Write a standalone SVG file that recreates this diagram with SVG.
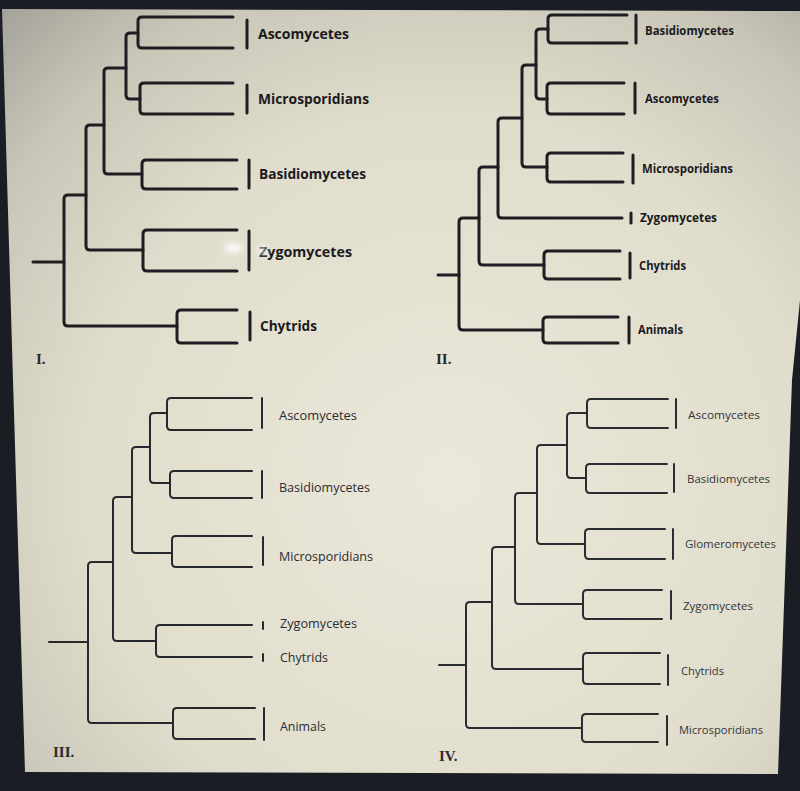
<svg xmlns="http://www.w3.org/2000/svg" width="800" height="791" viewBox="0 0 800 791">
<defs>
<radialGradient id="bg" cx="450" cy="480" r="660" gradientUnits="userSpaceOnUse">
<stop offset="0" stop-color="#ebe8da"/>
<stop offset="0.55" stop-color="#e1ddcc"/>
<stop offset="0.8" stop-color="#c9c6b8"/>
<stop offset="1" stop-color="#a19f97"/>
</radialGradient>
<filter id="blur" x="-50%" y="-50%" width="200%" height="200%"><feGaussianBlur stdDeviation="3"/></filter>
<style>
.t1 path, .t1 line { fill:none; stroke:#1d1d22; stroke-width:3; stroke-linecap:round; }
.t2 path, .t2 line { fill:none; stroke:#1d1d22; stroke-width:3; stroke-linecap:round; }
.t3 path, .t3 line { fill:none; stroke:#26282d; stroke-width:2; stroke-linecap:round; }
.t4 path, .t4 line { fill:none; stroke:#2a2c31; stroke-width:2; stroke-linecap:round; }
.tick1 { stroke:#1d1d22; stroke-width:3; }
.tick3 { stroke:#26282d; stroke-width:2; }
text { font-family:"Open Sans","Liberation Sans",sans-serif; }
.lb1 { font-size:15px; font-weight:bold; fill:#1a1a20; }
.lb2 { font-size:12px; font-weight:bold; fill:#1a1a20; }
.lb3 { font-size:13px; fill:#2a2c33; }
.lb4 { font-size:11px; fill:#33353b; }
.num { font-family:"Liberation Serif",serif; font-weight:bold; font-size:15px; fill:#2a2a2e; }
</style>
</defs>
<rect width="800" height="791" fill="#1b1d25"/>
<polygon points="2,9 800,11 800,300 792,380 778,774 25,772 13,380" fill="url(#bg)"/>

<g id="tree1" class="t1">
<g id="connectors1">
<path d="M233,17 H142 Q138,17 138,21 V44 Q138,48 142,48 H233"/>
<path d="M233,83 H144 Q140,83 140,87 V110 Q140,114 144,114 H233"/>
<path d="M138,33 H130 Q126,33 126,37 V95 Q126,99 130,99 H140"/>
<path d="M237,160 H146 Q142,160 142,164 V185 Q142,189 146,189 H237"/>
<path d="M126,68 H108 Q104,68 104,72 V170 Q104,174 108,174 H142"/>
<path d="M237,230 H147 Q143,230 143,234 V267 Q143,271 147,271 H237"/>
<path d="M104,125 H90 Q86,125 86,129 V246 Q86,250 90,250 H143"/>
<path d="M237,310 H181 Q177,310 177,314 V339 Q177,343 181,343 H237"/>
<path d="M86,195 H68 Q64,195 64,199 V322 Q64,326 68,326 H177"/>
<path d="M33,262 H64"/>
</g>
<g id="n1-asco"><line class="tick1" x1="247" y1="20" x2="247" y2="48"/><text class="lb1" x="258" y="39" textLength="91" lengthAdjust="spacingAndGlyphs">Ascomycetes</text></g>
<g id="n1-micro"><line class="tick1" x1="247" y1="85" x2="247" y2="113"/><text class="lb1" x="258" y="104" textLength="111" lengthAdjust="spacingAndGlyphs">Microsporidians</text></g>
<g id="n1-basid"><line class="tick1" x1="249" y1="160" x2="249" y2="188"/><text class="lb1" x="259" y="179" textLength="107" lengthAdjust="spacingAndGlyphs">Basidiomycetes</text></g>
<g id="n1-zygo"><line class="tick1" x1="249" y1="231" x2="249" y2="270"/><text class="lb1" x="259" y="257" textLength="93" lengthAdjust="spacingAndGlyphs">Zygomycetes</text></g>
<g id="n1-chyt"><line class="tick1" x1="250" y1="312" x2="250" y2="340"/><text class="lb1" x="260" y="331" textLength="57" lengthAdjust="spacingAndGlyphs">Chytrids</text></g>
<text class="num" x="36" y="364">I.</text>
</g>
<ellipse cx="233" cy="248" rx="9" ry="5" fill="#ffffff" opacity="0.9" filter="url(#blur)"/>
<ellipse cx="262" cy="250" rx="4" ry="5" fill="#ffffff" opacity="0.8" filter="url(#blur)"/>

<g id="tree2" class="t2">
<g id="connectors2">
<path d="M627,15 H552 Q548,15 548,19 V39 Q548,43 552,43 H627"/>
<path d="M624,83 H551 Q547,83 547,87 V110 Q547,114 551,114 H624"/>
<path d="M548,29 H540 Q536,29 536,33 V95 Q536,99 540,99 H547"/>
<path d="M623,153 H551 Q547,153 547,157 V178 Q547,182 551,182 H623"/>
<path d="M536,65 H526 Q522,65 522,69 V163 Q522,167 526,167 H547"/>
<path d="M522,118 H502 Q498,118 498,122 V214 Q498,218 502,218 H622"/>
<path d="M620,251 H548 Q544,251 544,255 V275 Q544,279 548,279 H620"/>
<path d="M498,167 H483 Q479,167 479,171 V261 Q479,265 483,265 H544"/>
<path d="M618,317 H547 Q543,317 543,321 V339 Q543,343 547,343 H618"/>
<path d="M479,218 H463 Q459,218 459,222 V326 Q459,330 463,330 H543"/>
<path d="M438,275 H459"/>
</g>
<g id="n2-basid"><line class="tick1" x1="636" y1="15" x2="636" y2="43"/><text class="lb2" x="645" y="35" textLength="89" lengthAdjust="spacingAndGlyphs">Basidiomycetes</text></g>
<g id="n2-asco"><line class="tick1" x1="635" y1="83" x2="635" y2="113"/><text class="lb2" x="645" y="103" textLength="74" lengthAdjust="spacingAndGlyphs">Ascomycetes</text></g>
<g id="n2-micro"><line class="tick1" x1="633" y1="155" x2="633" y2="183"/><text class="lb2" x="642" y="173" textLength="91" lengthAdjust="spacingAndGlyphs">Microsporidians</text></g>
<g id="n2-zygo"><line class="tick1" x1="631" y1="213" x2="631" y2="223"/><text class="lb2" x="640" y="222" textLength="77" lengthAdjust="spacingAndGlyphs">Zygomycetes</text></g>
<g id="n2-chyt"><line class="tick1" x1="630" y1="253" x2="630" y2="278"/><text class="lb2" x="639" y="270" textLength="47" lengthAdjust="spacingAndGlyphs" font-weight="normal">Chytrids</text></g>
<g id="n2-anim"><line class="tick1" x1="629" y1="317" x2="629" y2="343"/><text class="lb2" x="638" y="334" textLength="45" lengthAdjust="spacingAndGlyphs" font-weight="normal">Animals</text></g>
<text class="num" x="436" y="364">II.</text>
</g>

<g id="tree3" class="t3">
<g id="connectors3">
<path d="M252,398 H171 Q167,398 167,402 V426 Q167,430 171,430 H252"/>
<path d="M252,471 H174 Q170,471 170,475 V494 Q170,498 174,498 H252"/>
<path d="M167,413 H154 Q150,413 150,417 V479 Q150,483 154,483 H170"/>
<path d="M252,536 H176 Q172,536 172,540 V563 Q172,567 176,567 H252"/>
<path d="M150,447 H136 Q132,447 132,451 V549 Q132,553 136,553 H172"/>
<path d="M252,625 H160 Q156,625 156,629 V653 Q156,657 160,657 H252"/>
<path d="M132,497 H117 Q113,497 113,501 V637 Q113,641 117,641 H156"/>
<path d="M255,708 H177 Q173,708 173,712 V735 Q173,739 177,739 H255"/>
<path d="M113,562 H92 Q88,562 88,566 V719 Q88,723 92,723 H173"/>
<path d="M49,642 H88"/>
</g>
<g id="n3-asco"><line class="tick3" x1="262" y1="398" x2="262" y2="428"/><text class="lb3" x="279" y="420" textLength="78" lengthAdjust="spacingAndGlyphs">Ascomycetes</text></g>
<g id="n3-basid"><line class="tick3" x1="262" y1="471" x2="262" y2="498"/><text class="lb3" x="279" y="492" textLength="91" lengthAdjust="spacingAndGlyphs">Basidiomycetes</text></g>
<g id="n3-micro"><line class="tick3" x1="263" y1="537" x2="263" y2="565"/><text class="lb3" x="279" y="561" textLength="94" lengthAdjust="spacingAndGlyphs">Microsporidians</text></g>
<g id="n3-zygo"><line class="tick3" x1="263" y1="622" x2="263" y2="629"/><text class="lb3" x="280" y="628" textLength="77" lengthAdjust="spacingAndGlyphs">Zygomycetes</text></g>
<g id="n3-chyt"><line class="tick3" x1="263" y1="654" x2="263" y2="661"/><text class="lb3" x="280" y="662" textLength="48" lengthAdjust="spacingAndGlyphs">Chytrids</text></g>
<g id="n3-anim"><line class="tick3" x1="264" y1="708" x2="264" y2="740"/><text class="lb3" x="280" y="731" textLength="46" lengthAdjust="spacingAndGlyphs">Animals</text></g>
<text class="num" x="53" y="757">III.</text>
</g>

<g id="tree4" class="t4">
<g id="connectors4">
<path d="M668,399 H591 Q587,399 587,403 V424 Q587,428 591,428 H668"/>
<path d="M667,464 H590 Q586,464 586,468 V489 Q586,493 590,493 H667"/>
<path d="M587,413 H571 Q567,413 567,417 V474 Q567,478 571,478 H586"/>
<path d="M665,529 H589 Q585,529 585,533 V555 Q585,559 589,559 H665"/>
<path d="M567,445 H541 Q537,445 537,449 V540 Q537,544 541,544 H585"/>
<path d="M662,590 H587 Q583,590 583,594 V615 Q583,619 587,619 H662"/>
<path d="M537,493 H519 Q515,493 515,497 V600 Q515,604 519,604 H583"/>
<path d="M660,653 H587 Q583,653 583,657 V680 Q583,684 587,684 H660"/>
<path d="M515,547 H496 Q492,547 492,551 V665 Q492,669 496,669 H583"/>
<path d="M658,714 H586 Q582,714 582,718 V738 Q582,742 586,742 H658"/>
<path d="M492,602 H470 Q466,602 466,606 V724 Q466,728 470,728 H582"/>
<path d="M439,665 H466"/>
</g>
<g id="n4-asco"><line class="tick3" x1="676" y1="399" x2="676" y2="428"/><text class="lb4" x="688" y="419" textLength="72" lengthAdjust="spacingAndGlyphs">Ascomycetes</text></g>
<g id="n4-basid"><line class="tick3" x1="674" y1="464" x2="674" y2="492"/><text class="lb4" x="687" y="483" textLength="83" lengthAdjust="spacingAndGlyphs">Basidiomycetes</text></g>
<g id="n4-glom"><line class="tick3" x1="673" y1="529" x2="673" y2="559"/><text class="lb4" x="685" y="548" textLength="91" lengthAdjust="spacingAndGlyphs">Glomeromycetes</text></g>
<g id="n4-zygo"><line class="tick3" x1="671" y1="591" x2="671" y2="619"/><text class="lb4" x="683" y="610" textLength="70" lengthAdjust="spacingAndGlyphs">Zygomycetes</text></g>
<g id="n4-chyt"><line class="tick3" x1="668" y1="655" x2="668" y2="685"/><text class="lb4" x="681" y="675" textLength="43" lengthAdjust="spacingAndGlyphs">Chytrids</text></g>
<g id="n4-micro"><line class="tick3" x1="667" y1="716" x2="667" y2="745"/><text class="lb4" x="679" y="734" textLength="84" lengthAdjust="spacingAndGlyphs">Microsporidians</text></g>
<text class="num" x="439" y="761">IV.</text>
</g>
</svg>
